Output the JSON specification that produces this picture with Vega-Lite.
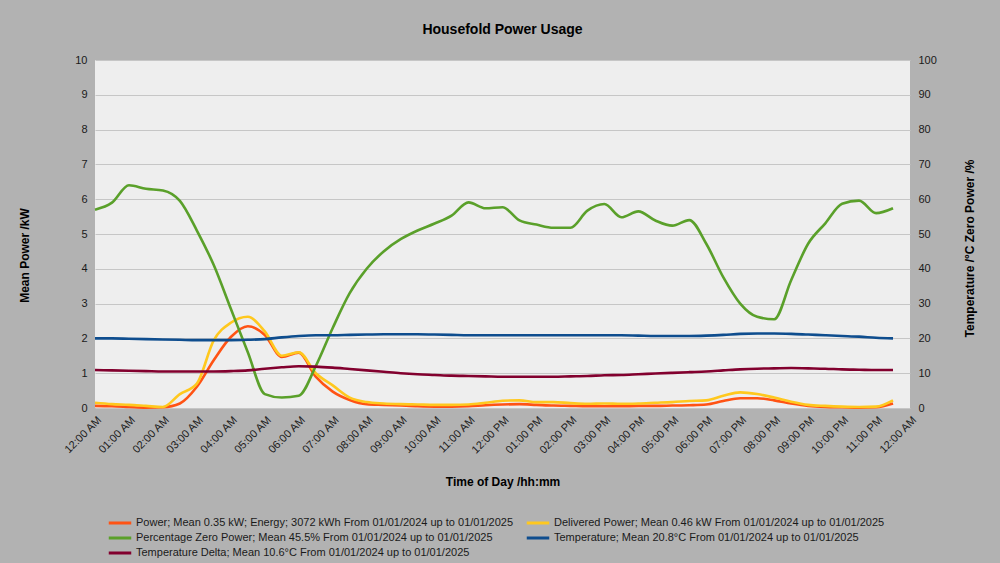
{
  "$schema": "https://vega.github.io/schema/vega-lite/v6.json",
  "autosize": {"type": "none"},
  "width": 815,
  "height": 348,
  "padding": {"left": 95, "top": 60, "right": 90, "bottom": 155},
  "background": "#b2b2b2",
  "title": {"text": "Housefold Power Usage", "font": "Liberation Sans", "fontSize": 14, "fontWeight": "bold", "color": "#000000", "anchor": "middle", "frame": "group", "offset": 17},
  "config": {
    "view": {"fill": "#eeeeee", "stroke": null},
    "axis": {"labelFont": "Liberation Sans", "labelFontSize": 11, "labelColor": "#1a1a1a", "titleFont": "Liberation Sans", "titleFontSize": 12, "titleFontWeight": "bold", "titleColor": "#000000", "domain": false, "ticks": false, "gridColor": "#c6c6c6", "gridWidth": 1, "labelPadding": 8},
    "legend": {"labelFont": "Liberation Sans", "labelFontSize": 11, "labelColor": "#1a1a1a"}
  },
  "data": {"values": [
    {"h": 0, "p": 0.06, "d": 0.15, "z": 57, "t": 20.0, "td": 10.9},
    {"h": 0.5, "p": 0.05, "d": 0.11, "z": 59, "t": 20.0, "td": 10.8},
    {"h": 1, "p": 0.03, "d": 0.09, "z": 64, "t": 19.9, "td": 10.7},
    {"h": 1.5, "p": 0.01, "d": 0.06, "z": 63, "t": 19.8, "td": 10.6},
    {"h": 2, "p": 0.02, "d": 0.03, "z": 62.5, "t": 19.7, "td": 10.5},
    {"h": 2.5, "p": 0.13, "d": 0.4, "z": 59.5, "t": 19.6, "td": 10.5},
    {"h": 3, "p": 0.61, "d": 0.7, "z": 51, "t": 19.5, "td": 10.5},
    {"h": 3.5, "p": 1.38, "d": 1.95, "z": 41, "t": 19.5, "td": 10.5},
    {"h": 4, "p": 2.04, "d": 2.45, "z": 28.5, "t": 19.5, "td": 10.6},
    {"h": 4.5, "p": 2.35, "d": 2.62, "z": 16, "t": 19.6, "td": 10.8},
    {"h": 5, "p": 2.1, "d": 2.2, "z": 4, "t": 19.8, "td": 11.3},
    {"h": 5.5, "p": 1.47, "d": 1.5, "z": 3, "t": 20.3, "td": 11.7},
    {"h": 6, "p": 1.59, "d": 1.6, "z": 3.5, "t": 20.7, "td": 12.0},
    {"h": 6.5, "p": 0.9, "d": 1.0, "z": 12, "t": 20.9, "td": 11.9},
    {"h": 7, "p": 0.47, "d": 0.65, "z": 23, "t": 20.9, "td": 11.6},
    {"h": 7.5, "p": 0.23, "d": 0.3, "z": 33, "t": 21.0, "td": 11.2},
    {"h": 8, "p": 0.11, "d": 0.17, "z": 40, "t": 21.1, "td": 10.8},
    {"h": 8.5, "p": 0.09, "d": 0.13, "z": 45, "t": 21.2, "td": 10.4},
    {"h": 9, "p": 0.07, "d": 0.11, "z": 48.5, "t": 21.2, "td": 10.0},
    {"h": 9.5, "p": 0.05, "d": 0.1, "z": 51, "t": 21.2, "td": 9.7},
    {"h": 10, "p": 0.04, "d": 0.09, "z": 53, "t": 21.1, "td": 9.5},
    {"h": 10.5, "p": 0.04, "d": 0.09, "z": 55.3, "t": 21.0, "td": 9.3},
    {"h": 11, "p": 0.05, "d": 0.1, "z": 59.1, "t": 20.9, "td": 9.2},
    {"h": 11.5, "p": 0.08, "d": 0.15, "z": 57.4, "t": 20.9, "td": 9.1},
    {"h": 12, "p": 0.1, "d": 0.21, "z": 57.7, "t": 20.9, "td": 9.0},
    {"h": 12.5, "p": 0.11, "d": 0.22, "z": 53.9, "t": 20.9, "td": 9.0},
    {"h": 13, "p": 0.09, "d": 0.17, "z": 52.7, "t": 20.9, "td": 9.0},
    {"h": 13.5, "p": 0.07, "d": 0.17, "z": 51.8, "t": 20.9, "td": 9.0},
    {"h": 14, "p": 0.06, "d": 0.14, "z": 51.8, "t": 20.9, "td": 9.1},
    {"h": 14.5, "p": 0.05, "d": 0.12, "z": 56.7, "t": 20.9, "td": 9.2},
    {"h": 15, "p": 0.05, "d": 0.13, "z": 58.6, "t": 20.9, "td": 9.4},
    {"h": 15.5, "p": 0.05, "d": 0.12, "z": 54.8, "t": 20.9, "td": 9.5},
    {"h": 16, "p": 0.06, "d": 0.13, "z": 56.5, "t": 20.8, "td": 9.7},
    {"h": 16.5, "p": 0.06, "d": 0.15, "z": 53.9, "t": 20.7, "td": 9.9},
    {"h": 17, "p": 0.07, "d": 0.17, "z": 52.4, "t": 20.7, "td": 10.1},
    {"h": 17.5, "p": 0.08, "d": 0.2, "z": 54.0, "t": 20.7, "td": 10.3},
    {"h": 18, "p": 0.1, "d": 0.22, "z": 47.2, "t": 20.8, "td": 10.5},
    {"h": 18.5, "p": 0.2, "d": 0.35, "z": 37.6, "t": 21.0, "td": 10.8},
    {"h": 19, "p": 0.28, "d": 0.45, "z": 30, "t": 21.3, "td": 11.1},
    {"h": 19.5, "p": 0.28, "d": 0.4, "z": 26.2, "t": 21.4, "td": 11.3},
    {"h": 20, "p": 0.22, "d": 0.3, "z": 25.5, "t": 21.4, "td": 11.4},
    {"h": 20.5, "p": 0.13, "d": 0.18, "z": 36.7, "t": 21.3, "td": 11.5},
    {"h": 21, "p": 0.06, "d": 0.09, "z": 47.2, "t": 21.1, "td": 11.4},
    {"h": 21.5, "p": 0.03, "d": 0.06, "z": 53, "t": 20.9, "td": 11.3},
    {"h": 22, "p": 0.02, "d": 0.04, "z": 58.7, "t": 20.7, "td": 11.1},
    {"h": 22.5, "p": 0.01, "d": 0.03, "z": 59.6, "t": 20.5, "td": 11.0},
    {"h": 23, "p": 0.02, "d": 0.04, "z": 56, "t": 20.2, "td": 10.9},
    {"h": 23.5, "p": 0.13, "d": 0.22, "z": 57.4, "t": 20.0, "td": 10.9}
  ]},
  "encoding": {
    "x": {"field": "h", "type": "quantitative", "scale": {"domain": [0, 24], "nice": false},
      "axis": {"title": "Time of Day /hh:mm", "grid": false, "values": [0,1,2,3,4,5,6,7,8,9,10,11,12,13,14,15,16,17,18,19,20,21,22,23,24], "labelAngle": -45, "labelPadding": 6, "labelOverlap": false, "labelBound": false, "titlePadding": 21,
        "labelExpr": "timeFormat(datetime(2024, 0, 1, datum.value, 0, 0), '%I:%M %p')"}}
  },
  "layer": [
    {
      "transform": [{"fold": ["p", "d"], "as": ["key", "value"]}],
      "mark": {"type": "line", "interpolate": "monotone", "strokeWidth": 2.6},
      "encoding": {
        "y": {"field": "value", "type": "quantitative", "scale": {"domain": [0, 10], "nice": false},
          "axis": {"title": "Mean Power /kW", "orient": "left", "values": [0,1,2,3,4,5,6,7,8,9,10], "grid": true, "titlePadding": 43, "titleY": 195}},
        "color": {"field": "key", "type": "nominal",
          "scale": {"domain": ["p", "z", "td", "d", "t"], "range": ["#ff5314", "#5aa02a", "#82002e", "#ffc81e", "#0e4d8e"]},
          "legend": {"orient": "none", "legendX": 16, "legendY": 454, "columns": 2, "title": null, "symbolType": "M-1.5,0H1.5", "symbolSize": 225, "symbolStrokeWidth": 3, "labelLimit": 0, "rowPadding": 0, "columnPadding": 6, "labelOffset": 7,
            "labelExpr": "datum.value == 'p' ? 'Power; Mean 0.35 kW; Energy; 3072 kWh From 01/01/2024 up to 01/01/2025' : datum.value == 'd' ? 'Delivered Power; Mean 0.46 kW From 01/01/2024 up to 01/01/2025' : datum.value == 'z' ? 'Percentage Zero Power; Mean 45.5% From 01/01/2024 up to 01/01/2025' : datum.value == 't' ? 'Temperature; Mean 20.8°C From 01/01/2024 up to 01/01/2025' : 'Temperature Delta; Mean 10.6°C From 01/01/2024 up to 01/01/2025'"}}
      }
    },
    {
      "transform": [{"fold": ["z", "t", "td"], "as": ["key", "value"]}],
      "mark": {"type": "line", "interpolate": "monotone", "strokeWidth": 2.6},
      "encoding": {
        "y": {"field": "value", "type": "quantitative", "scale": {"domain": [0, 100], "nice": false},
          "axis": {"title": "Temperature /°C Zero Power /%", "orient": "right", "values": [0,10,20,30,40,50,60,70,80,90,100], "grid": false, "titleAngle": 270, "titlePadding": 40, "titleY": 188}},
        "color": {"field": "key", "type": "nominal",
          "scale": {"domain": ["p", "z", "td", "d", "t"], "range": ["#ff5314", "#5aa02a", "#82002e", "#ffc81e", "#0e4d8e"]},
          "legend": {"orient": "none", "legendX": 16, "legendY": 454, "columns": 2, "title": null, "symbolType": "M-1.5,0H1.5", "symbolSize": 225, "symbolStrokeWidth": 3, "labelLimit": 0, "rowPadding": 0, "columnPadding": 6, "labelOffset": 7,
            "labelExpr": "datum.value == 'p' ? 'Power; Mean 0.35 kW; Energy; 3072 kWh From 01/01/2024 up to 01/01/2025' : datum.value == 'd' ? 'Delivered Power; Mean 0.46 kW From 01/01/2024 up to 01/01/2025' : datum.value == 'z' ? 'Percentage Zero Power; Mean 45.5% From 01/01/2024 up to 01/01/2025' : datum.value == 't' ? 'Temperature; Mean 20.8°C From 01/01/2024 up to 01/01/2025' : 'Temperature Delta; Mean 10.6°C From 01/01/2024 up to 01/01/2025'"}}
      }
    }
  ],
  "resolve": {"scale": {"y": "independent"}}
}
